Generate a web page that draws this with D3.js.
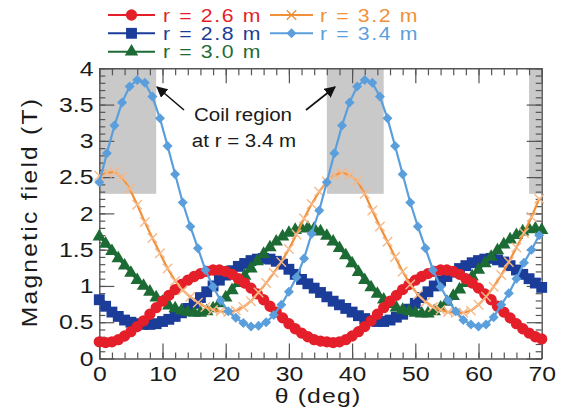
<!DOCTYPE html>
<html>
<head>
<meta charset="utf-8">
<script src="https://cdn.jsdelivr.net/npm/d3@7"></script>
<style>
  body { margin: 0; background: #fff; }
  svg { display: block; font-family: "Liberation Sans", Arial, sans-serif; }
</style>
</head>
<body>
<svg id="chart" width="570" height="415"></svg>
<script>
// angle grids (deg)
const thetaFine = d3.range(0, 71, 1)        // r = 2.6, 2.8, 3.0 m
const thetaCoarse = d3.range(0, 70, 1.2)    // r = 3.2, 3.4 m

// magnetic field (T)
const field26 = [
  0.23, 0.22, 0.23, 0.26, 0.31, 0.37, 0.44, 0.52, 0.61, 0.70,
  0.79, 0.87, 0.95, 1.02, 1.08, 1.13, 1.17, 1.20, 1.22, 1.22,
  1.20, 1.16, 1.10, 1.04, 0.97, 0.89, 0.81, 0.72, 0.64, 0.56,
  0.48, 0.41, 0.35, 0.30, 0.26, 0.24, 0.23, 0.22, 0.23, 0.26,
  0.31, 0.37, 0.44, 0.52, 0.61, 0.70, 0.79, 0.87, 0.95, 1.02,
  1.08, 1.13, 1.17, 1.20, 1.22, 1.22, 1.20, 1.16, 1.10, 1.04,
  0.97, 0.89, 0.81, 0.72, 0.64, 0.56, 0.48, 0.41, 0.35, 0.30,
  0.27]
const field28 = [
  0.81, 0.72, 0.64, 0.58, 0.53, 0.50, 0.48, 0.47, 0.47, 0.48,
  0.51, 0.54, 0.58, 0.63, 0.69, 0.76, 0.84, 0.92, 1.00, 1.08,
  1.15, 1.21, 1.27, 1.31, 1.35, 1.37, 1.38, 1.37, 1.34, 1.30,
  1.23, 1.16, 1.09, 1.03, 0.97, 0.91, 0.85, 0.79, 0.74, 0.69,
  0.64, 0.59, 0.55, 0.52, 0.51, 0.51, 0.53, 0.57, 0.61, 0.68,
  0.76, 0.84, 0.92, 1.00, 1.07, 1.13, 1.19, 1.24, 1.28, 1.32,
  1.35, 1.37, 1.38, 1.36, 1.33, 1.28, 1.22, 1.16, 1.10, 1.04,
  0.98]
const field30 = [
  1.68, 1.58, 1.48, 1.38, 1.28, 1.18, 1.08, 1.00, 0.92, 0.84,
  0.78, 0.73, 0.69, 0.66, 0.64, 0.63, 0.63, 0.65, 0.69, 0.76,
  0.84, 0.94, 1.04, 1.14, 1.24, 1.34, 1.44, 1.53, 1.61, 1.68,
  1.73, 1.77, 1.79, 1.80, 1.79, 1.75, 1.69, 1.61, 1.52, 1.42,
  1.31, 1.19, 1.08, 0.98, 0.89, 0.81, 0.75, 0.70, 0.67, 0.65,
  0.63, 0.62, 0.62, 0.65, 0.70, 0.78, 0.86, 0.95, 1.04, 1.13,
  1.22, 1.31, 1.40, 1.49, 1.57, 1.64, 1.70, 1.75, 1.78, 1.79,
  1.77]
const field32 = [
  2.52, 2.56, 2.57, 2.50, 2.34, 2.12, 1.88, 1.66, 1.45, 1.24,
  1.07, 0.94, 0.85, 0.77, 0.71, 0.67, 0.65, 0.64, 0.66, 0.71,
  0.79, 0.91, 1.04, 1.18, 1.33, 1.51, 1.71, 1.93, 2.13, 2.30,
  2.44, 2.53, 2.56, 2.53, 2.45, 2.27, 2.04, 1.82, 1.61, 1.40,
  1.20, 1.02, 0.88, 0.78, 0.71, 0.67, 0.64, 0.63, 0.63, 0.66,
  0.74, 0.85, 0.99, 1.15, 1.33, 1.53, 1.73, 1.95, 2.20]
const field34 = [
  2.43, 2.83, 3.21, 3.53, 3.75, 3.84, 3.80, 3.61, 3.31, 2.93,
  2.54, 2.15, 1.82, 1.52, 1.22, 0.99, 0.80, 0.65, 0.56, 0.49,
  0.44, 0.45, 0.50, 0.60, 0.74, 0.92, 1.12, 1.38, 1.72, 2.04,
  2.43, 2.83, 3.21, 3.53, 3.75, 3.84, 3.80, 3.61, 3.31, 2.93,
  2.54, 2.15, 1.82, 1.52, 1.22, 0.99, 0.80, 0.65, 0.53, 0.47,
  0.44, 0.47, 0.57, 0.74, 0.90, 1.10, 1.32, 1.50, 1.70]

const seriesLabels = ['r = 2.6 m', 'r = 2.8 m', 'r = 3.0 m', 'r = 3.2 m', 'r = 3.4 m']

// coil region at r = 3.4 m (deg), shaded from 2.27 T to the top
const coilRegions = [[0, 9], [36, 45], [68, 70]]
const coilLow = 2.27

const xTicks = [0, 10, 20, 30, 40, 50, 60, 70]
const xMinor = d3.range(0, 71, 2)
const yTicks = [0, 0.5, 1, 1.5, 2, 2.5, 3, 3.5, 4]
const yMinor = d3.range(0, 4.001, 0.1)

// series styling
const series = [
  { label: seriesLabels[0], theta: thetaFine, values: field26, color: '#e41f2a', mark: '#e41f2a', sym: d3.symbolCircle, size: 100 },
  { label: seriesLabels[1], theta: thetaFine, values: field28, color: '#1b3d99', mark: '#1b3d99', sym: d3.symbolSquare, size: 118 },
  { label: seriesLabels[2], theta: thetaFine, values: field30, color: '#1d6b34', mark: '#1d6b34', sym: d3.symbolTriangle, size: 78 },
  { label: seriesLabels[3], theta: thetaCoarse, values: field32, color: '#f0913a', mark: '#f6b98a', sym: d3.symbolTimes, size: 60, stroke: true },
  { label: seriesLabels[4], theta: thetaCoarse, values: field34, color: '#5a9fdc', mark: '#5a9fdc', sym: d3.symbolSquare, size: 50, rotate: 45 }
]
// draw order: blue, green, red, orange, light blue
const drawOrder = [1, 2, 0, 3, 4]

const svg = d3.select('#chart')

const x = d3.scaleLinear().domain([0, 70]).range([99.3, 541.7])
const y = d3.scaleLinear().domain([0, 4]).range([358.5, 68.3])

const axisColor = '#555'
const stretch = 1.18

// coil shading
svg.append('g').selectAll('rect')
  .data(coilRegions)
  .enter().append('rect')
  .attr('x', d => x(d[0]))
  .attr('width', d => x(d[1]) - x(d[0]))
  .attr('y', y(4))
  .attr('height', y(coilLow) - y(4))
  .attr('fill', '#c9c9c9')

// axes (ticks point inward)
function styleAxis(g) {
  g.select('.domain').attr('stroke', axisColor).attr('stroke-width', 1.4)
  g.selectAll('.tick line').attr('stroke', axisColor).attr('stroke-width', 1.2)
  g.attr('font-family', null).attr('font-size', null)
}

const $bottom = svg.append('g').attr('transform', `translate(0,${y(0)})`)
$bottom.append('g').call(d3.axisBottom(x).tickValues(xMinor).tickSize(-6).tickSizeOuter(0).tickFormat(''))
  .call(styleAxis)
$bottom.append('g').call(d3.axisBottom(x).tickValues(xTicks).tickSize(-15).tickSizeOuter(0).tickPadding(8))
  .call(styleAxis)
  .call(g => g.select('.domain').remove())
  .selectAll('.tick text')
  .attr('font-size', 21).attr('fill', '#1a1a1a')
  .attr('transform', `scale(${stretch},1)`)

const $top = svg.append('g').attr('transform', `translate(0,${y(4)})`)
$top.append('g').call(d3.axisTop(x).tickValues(xMinor).tickSize(-7).tickSizeOuter(0).tickFormat(''))
  .call(styleAxis)
$top.append('g').call(d3.axisTop(x).tickValues(xTicks).tickSize(-15).tickSizeOuter(0).tickFormat(''))
  .call(styleAxis)
  .call(g => g.select('.domain').remove())

const $left = svg.append('g').attr('transform', `translate(${x(0)},0)`)
$left.append('g').call(d3.axisLeft(y).tickValues(yMinor).tickSize(-6).tickSizeOuter(0).tickFormat(''))
  .call(styleAxis)
$left.append('g').call(d3.axisLeft(y).tickValues(yTicks).tickSize(-15).tickSizeOuter(0).tickPadding(5).tickFormat(d => String(d)))
  .call(styleAxis)
  .call(g => g.select('.domain').remove())
  .selectAll('.tick text')
  .attr('font-size', 21).attr('fill', '#1a1a1a')
  .attr('transform', `scale(${stretch},1)`)

const $right = svg.append('g').attr('transform', `translate(${x(70)},0)`)
$right.append('g').call(d3.axisRight(y).tickValues(yMinor).tickSize(-6).tickSizeOuter(0).tickFormat(''))
  .call(styleAxis)
$right.append('g').call(d3.axisRight(y).tickValues(yTicks).tickSize(-15).tickSizeOuter(0).tickFormat(''))
  .call(styleAxis)
  .call(g => g.select('.domain').remove())

// axis titles
svg.append('text')
  .attr('transform', `translate(318,403) scale(${stretch},1)`)
  .attr('text-anchor', 'middle')
  .attr('font-size', 21)
  .attr('letter-spacing', 1)
  .attr('fill', '#1a1a1a')
  .text('θ (deg)')

svg.append('text')
  .attr('transform', 'translate(37,212) rotate(-90) scale(1.12,1)')
  .attr('text-anchor', 'middle')
  .attr('font-size', 22)
  .attr('letter-spacing', 2)
  .attr('fill', '#1a1a1a')
  .text('Magnetic field (T)')

// series
const line = d3.line()
  .x(d => x(d[0]))
  .y(d => y(d[1]))

const $series = svg.append('g')
drawOrder.forEach(i => {
  const s = series[i]
  const pts = s.theta.map((t, k) => [t, s.values[k]])
  const g = $series.append('g')
  g.append('path')
    .datum(pts)
    .attr('d', line)
    .attr('fill', 'none')
    .attr('stroke', s.color)
    .attr('stroke-width', 2.2)
  const sym = d3.symbol().type(s.sym).size(s.size)
  g.selectAll('path.pt')
    .data(pts)
    .enter().append('path')
    .attr('class', 'pt')
    .attr('d', sym)
    .attr('transform', d => `translate(${x(d[0])},${y(d[1])})` + (s.rotate ? ` rotate(${s.rotate})` : ''))
    .attr('fill', s.stroke ? 'none' : s.mark)
    .attr('stroke', s.stroke ? s.mark : 'none')
    .attr('stroke-width', s.stroke ? 1.4 : 0)
})

// legend
const legendCols = [{ x0: 108, x1: 155, tx: 163 }, { x0: 270, x1: 313, tx: 320 }]
const legendRows = [15, 33.3, 51.7]
const legendPos = [[0, 0], [0, 1], [0, 2], [1, 0], [1, 1]]

const $legend = svg.append('g')
series.forEach((s, i) => {
  const c = legendCols[legendPos[i][0]]
  const ry = legendRows[legendPos[i][1]]
  const g = $legend.append('g')
  g.append('line')
    .attr('x1', c.x0).attr('x2', c.x1)
    .attr('y1', ry).attr('y2', ry)
    .attr('stroke', s.color).attr('stroke-width', 2)
  g.append('path')
    .attr('d', d3.symbol().type(s.sym).size(s.size)())
    .attr('transform', `translate(${(c.x0 + c.x1) / 2},${ry})` + (s.rotate ? ` rotate(${s.rotate})` : ''))
    .attr('fill', s.stroke ? 'none' : s.mark)
    .attr('stroke', s.stroke ? s.color : 'none')
    .attr('stroke-width', s.stroke ? 1.4 : 0)
  g.append('text')
    .attr('transform', `translate(${c.tx},${ry + 6.5}) scale(${stretch},1)`)
    .attr('font-size', 18)
    .attr('letter-spacing', 1.4)
    .attr('fill', s.color)
    .text(s.label)
})

// coil annotation
svg.append('defs').append('marker')
  .attr('id', 'arrow')
  .attr('viewBox', '0 0 10 10')
  .attr('refX', 9).attr('refY', 5)
  .attr('markerWidth', 7).attr('markerHeight', 7)
  .attr('orient', 'auto')
  .append('path')
  .attr('d', 'M0,0 L10,5 L0,10 z')
  .attr('fill', '#111')

const arrows = [[[184, 110], [157, 87]], [[306, 110], [335, 87]]]
svg.append('g').selectAll('line')
  .data(arrows)
  .enter().append('line')
  .attr('x1', d => d[0][0]).attr('y1', d => d[0][1])
  .attr('x2', d => d[1][0]).attr('y2', d => d[1][1])
  .attr('stroke', '#111')
  .attr('stroke-width', 1.6)
  .attr('marker-end', 'url(#arrow)')

const note = svg.append('g')
  .attr('font-size', 19)
  .attr('fill', '#1a1a1a')
  .attr('text-anchor', 'middle')
note.append('text').attr('transform', 'translate(243,121) scale(1.08,1)').text('Coil region')
note.append('text').attr('transform', 'translate(244,147) scale(1.08,1)').text('at r = 3.4 m')
</script>
</body>
</html>
